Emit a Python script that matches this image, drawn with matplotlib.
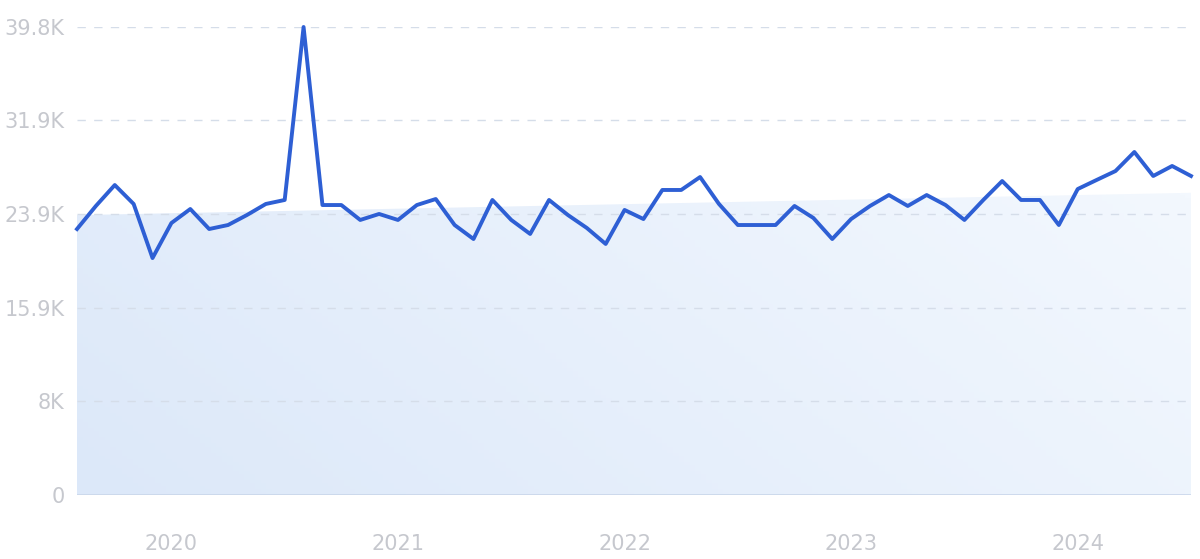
import numpy as np
import matplotlib
matplotlib.use("Agg")
import matplotlib.pyplot as plt
from matplotlib.patches import Polygon
from matplotlib.colors import LinearSegmentedColormap

# monthly values, Aug 2019 .. Jul 2024
months = [f"{y}-{m:02d}" for y in range(2019, 2025) for m in range(1, 13)][7:67]
values = [22620, 24580, 26360, 24750, 20150, 23130, 24320, 22620, 22960, 23810,
          24750, 25090, 39800, 24660, 24660, 23390, 23900, 23390, 24660, 25170,
          22960, 21770, 25090, 23390, 22200, 25090, 23810, 22710, 21350, 24240,
          23470, 25940, 25940, 27040, 24750, 22960, 22960, 22960, 24580, 23560,
          21770, 23470, 24580, 25510, 24580, 25510, 24660, 23390, 25090, 26700,
          25090, 25090, 22960, 26020, 26790, 27550, 29170, 27130, 27980, 27130]
trend_start, trend_end = 23800, 25700

yticks = [0, 8000, 15900, 23900, 31900, 39800]
ytick_labels = ["0", "8K", "15.9K", "23.9K", "31.9K", "39.8K"]
year_labels = ["2020", "2021", "2022", "2023", "2024"]

x = np.arange(len(values))
xlast = len(values) - 1

fig = plt.figure(figsize=(12, 5.59), dpi=100)
ax = fig.add_axes([77 / 1200, 64 / 559, (1191 - 77) / 1200, (495 - 27) / 559])

# gradient trend area
cmap = LinearSegmentedColormap.from_list("fillgrad", ["#dce8f9", "#f3f8fe"])
gx, gy = np.meshgrid(np.linspace(0, 1, 200), np.linspace(0, 1, 100))
grad = gx * 0.75 + (1 - gy) * 0.25
img = ax.imshow(grad, cmap=cmap, extent=[0, xlast, 0, trend_end], origin="upper",
                aspect="auto", zorder=0)
poly = Polygon([[0, 0], [0, trend_start], [xlast, trend_end], [xlast, 0]],
               closed=True, facecolor="none", edgecolor="none")
ax.add_patch(poly)
img.set_clip_path(poly)

for t in yticks[1:]:
    ax.axhline(t, color="#d5dde9", lw=1, ls=(0, (6, 6)), zorder=1)
ax.axhline(0, color="#c9d6ea", lw=1.2, zorder=2)

ax.plot(x, values, color="#2e5fd4", lw=2.8, solid_joinstyle="round", zorder=3, clip_on=False)

ax.set_xlim(0, xlast)
ax.set_ylim(0, 39800)
ax.set_yticks(yticks)
ax.set_yticklabels(ytick_labels)
jan = [months.index(f"{y}-01") for y in year_labels]
ax.set_xticks(jan)
ax.set_xticklabels(year_labels)
ax.tick_params(axis="both", length=0, labelcolor="#c6c8ce", labelsize=15)
ax.tick_params(axis="y", pad=9)
ax.tick_params(axis="x", pad=28)
for s in ax.spines.values():
    s.set_visible(False)

plt.savefig("out.png", dpi=100)
